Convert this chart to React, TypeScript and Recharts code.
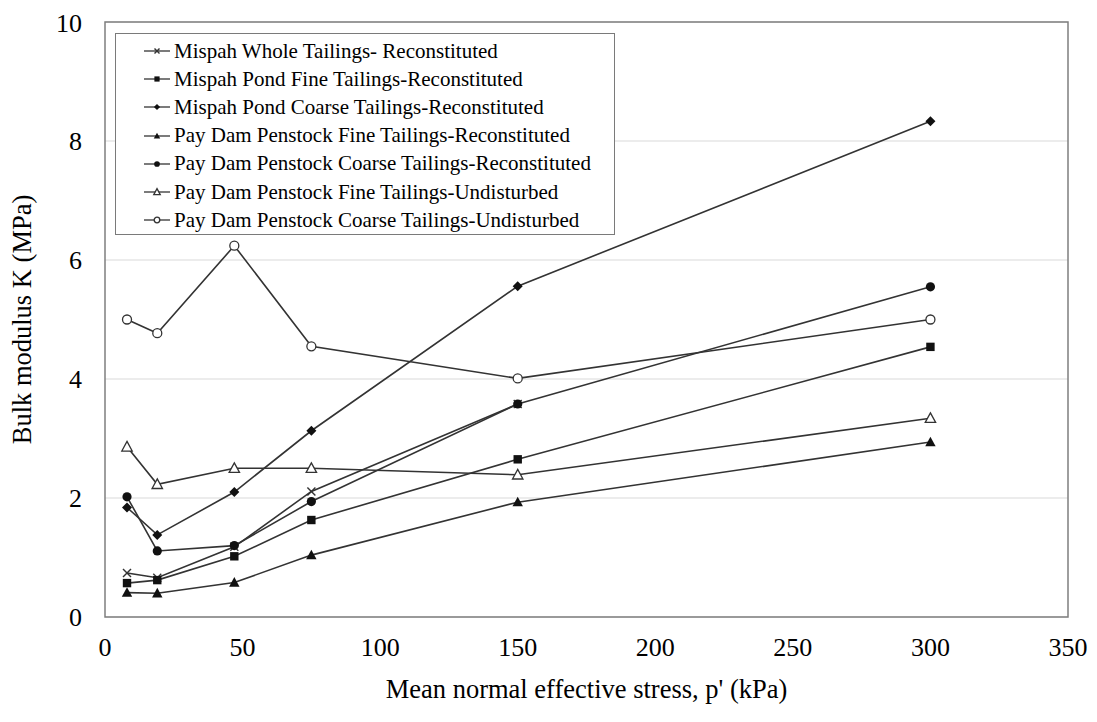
import React from 'react';
import { LineChart, Line, XAxis, YAxis, CartesianGrid, Legend, ReferenceArea } from 'recharts';

// mean normal effective stress p' (kPa)
const stress = [8, 19, 47, 75, 150, 300];

// bulk modulus K (MPa)
const mispahWhole = [0.74, 0.66, 1.18, 2.11, 3.58, null];
const mispahPondFine = [0.57, 0.62, 1.02, 1.63, 2.65, 4.54];
const mispahPondCoarse = [1.84, 1.38, 2.1, 3.13, 5.56, 8.33];
const payDamFineRecon = [0.41, 0.4, 0.58, 1.04, 1.93, 2.94];
const payDamCoarseRecon = [2.02, 1.11, 1.2, 1.94, 3.58, 5.55];
const payDamFineUndist = [2.86, 2.23, 2.5, 2.5, 2.39, 3.34];
const payDamCoarseUndist = [5.0, 4.77, 6.24, 4.55, 4.01, 5.0];

const xTicks = [0, 50, 100, 150, 200, 250, 300, 350];
const yTicks = [0, 2, 4, 6, 8, 10];

type Marker = 'cross' | 'square' | 'diamond' | 'triangle' | 'circle' | 'triangleOpen' | 'circleOpen';

const series: { key: string; name: string; values: (number | null)[]; marker: Marker }[] = [
  { key: 'mw', name: 'Mispah Whole Tailings- Reconstituted', values: mispahWhole, marker: 'cross' },
  { key: 'mpf', name: 'Mispah Pond Fine Tailings-Reconstituted', values: mispahPondFine, marker: 'square' },
  { key: 'mpc', name: 'Mispah Pond Coarse Tailings-Reconstituted', values: mispahPondCoarse, marker: 'diamond' },
  { key: 'pfr', name: 'Pay Dam Penstock Fine Tailings-Reconstituted', values: payDamFineRecon, marker: 'triangle' },
  { key: 'pcr', name: 'Pay Dam Penstock Coarse Tailings-Reconstituted', values: payDamCoarseRecon, marker: 'circle' },
  { key: 'pfu', name: 'Pay Dam Penstock Fine Tailings-Undisturbed', values: payDamFineUndist, marker: 'triangleOpen' },
  { key: 'pcu', name: 'Pay Dam Penstock Coarse Tailings-Undisturbed', values: payDamCoarseUndist, marker: 'circleOpen' },
];

const data = stress.map((p, i) => {
  const row: Record<string, number | null> = { p };
  series.forEach((s) => { row[s.key] = s.values[i]; });
  return row;
});

const LINE = '#333';
const INK = '#111';
const FONT = '"Liberation Serif", "Times New Roman", serif';

const drawMarker = (m: Marker, cx: number, cy: number, k: number, key?: string) => {
  switch (m) {
    case 'cross':
      return (
        <g key={key}>
          <line x1={cx - 4 * k} y1={cy - 4 * k} x2={cx + 4 * k} y2={cy + 4 * k} stroke={LINE} strokeWidth={1.4} />
          <line x1={cx - 4 * k} y1={cy + 4 * k} x2={cx + 4 * k} y2={cy - 4 * k} stroke={LINE} strokeWidth={1.4} />
        </g>
      );
    case 'square':
      return <rect key={key} x={cx - 4.2 * k} y={cy - 4.2 * k} width={8.4 * k} height={8.4 * k} fill={INK} />;
    case 'diamond':
      return <polygon key={key} points={`${cx},${cy - 5 * k} ${cx + 5 * k},${cy} ${cx},${cy + 5 * k} ${cx - 5 * k},${cy}`} fill={INK} />;
    case 'triangle':
      return <polygon key={key} points={`${cx},${cy - 5.4 * k} ${cx + 5.2 * k},${cy + 4.2 * k} ${cx - 5.2 * k},${cy + 4.2 * k}`} fill={INK} />;
    case 'circle':
      return <circle key={key} cx={cx} cy={cy} r={4.6 * k} fill={INK} />;
    case 'triangleOpen':
      return <polygon key={key} points={`${cx},${cy - 5.4 * k} ${cx + 5.2 * k},${cy + 4.2 * k} ${cx - 5.2 * k},${cy + 4.2 * k}`} fill="#fff" stroke={LINE} strokeWidth={1.3} />;
    case 'circleOpen':
      return <circle key={key} cx={cx} cy={cy} r={4.5 * k} fill="#fff" stroke={LINE} strokeWidth={1.3} />;
  }
};

const makeDot = (m: Marker) => (props: any) => {
  const { cx, cy, index, value } = props;
  const key = `${m}-${index}`;
  if (cx == null || cy == null || value == null) return <g key={key} />;
  return drawMarker(m, cx, cy, 1, key);
};

const LegendBox = () => (
  <div
    style={{
      boxSizing: 'border-box',
      width: 500,
      height: 202,
      border: '1.5px solid #7a7a7a',
      background: '#fff',
      padding: '3px 0 0 27px',
      fontFamily: FONT,
      fontSize: 21,
      color: '#000',
    }}
  >
    {series.map((s) => (
      <div key={s.key} style={{ height: 28.2, display: 'flex', alignItems: 'center', whiteSpace: 'nowrap' }}>
        <svg width={28} height={12} style={{ marginRight: 3 }}>
          <line x1={1} y1={6} x2={27} y2={6} stroke={LINE} strokeWidth={1.3} />
          {drawMarker(s.marker, 14, 6, 0.62)}
        </svg>
        <span>{s.name}</span>
      </div>
    ))}
  </div>
);

export default function App() {
  return (
    <div style={{ background: '#fff' }}>
      <LineChart width={1089} height={714} data={data} margin={{ top: 14, right: 29, bottom: 0, left: 0 }}>
        <CartesianGrid vertical={false} stroke="#dadada" strokeWidth={1.2} />
        <XAxis
          dataKey="p"
          type="number"
          domain={[0, 350]}
          ticks={xTicks}
          height={105}
          tickSize={0}
          tickMargin={21}
          axisLine={false}
          tickLine={false}
          tick={{ fill: '#000', fontSize: 26, fontFamily: FONT }}
          label={{
            value: "Mean normal effective stress, p' (kPa)",
            position: 'insideBottom',
            offset: 24,
            style: { fill: '#000', fontSize: 26.5, fontFamily: FONT },
          }}
        />
        <YAxis
          type="number"
          domain={[0, 10]}
          ticks={yTicks}
          width={97}
          tickSize={0}
          tickMargin={23}
          axisLine={false}
          tickLine={false}
          tick={{ fill: '#000', fontSize: 26, fontFamily: FONT }}
          label={{
            value: 'Bulk modulus K (MPa)',
            angle: -90,
            position: 'insideLeft',
            offset: 14,
            style: { textAnchor: 'middle', fill: '#000', fontSize: 26.5, fontFamily: FONT },
          }}
        />
        <ReferenceArea x1={0} x2={350} y1={0} y2={10} fill="none" stroke="#7f7f7f" strokeWidth={1.5} />
        {series.map((s) => (
          <Line
            key={s.key}
            dataKey={s.key}
            name={s.name}
            type="linear"
            stroke={LINE}
            strokeWidth={1.6}
            dot={makeDot(s.marker)}
            activeDot={false}
            isAnimationActive={false}
          />
        ))}
        <Legend
          layout="vertical"
          align="center"
          verticalAlign="middle"
          content={() => <LegendBox />}
          wrapperStyle={{ top: 25, left: 107, width: 500, height: 202 }}
        />
      </LineChart>
    </div>
  );
}
